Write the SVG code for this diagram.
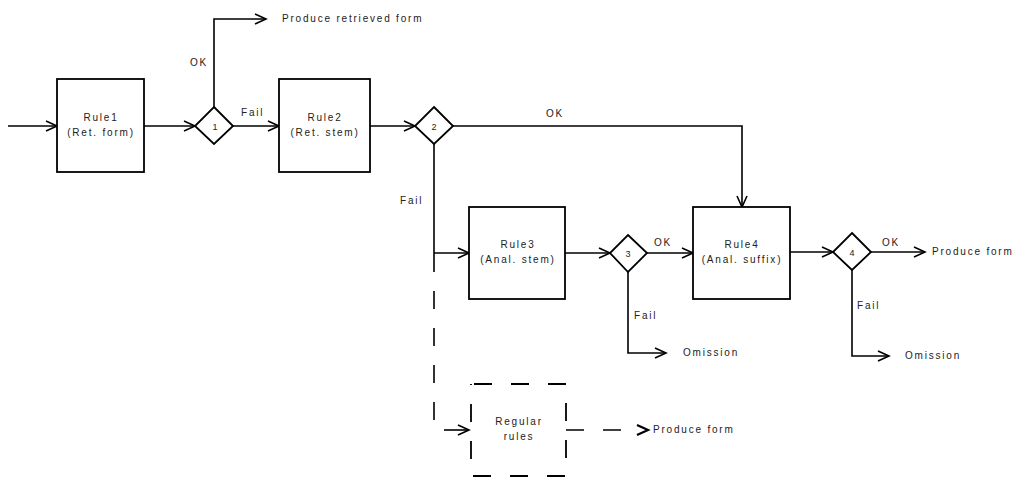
<svg xmlns="http://www.w3.org/2000/svg" width="1013" height="480" viewBox="0 0 1013 480">
<style>
text{font-family:"Liberation Sans",Arial,sans-serif;font-size:10px;letter-spacing:1.8px;fill:#222}
.c{text-anchor:middle}
.box{fill:#fff;stroke:#000;stroke-width:1.8}
.ln{fill:none;stroke:#000;stroke-width:1.6}
.ar{marker-end:url(#a)}
.d{stroke-dasharray:18 19}
</style>
<defs>
<marker id="a" markerWidth="14" markerHeight="14" refX="12" refY="6" orient="auto" markerUnits="userSpaceOnUse">
<path d="M1,1 L12,6 L1,11" fill="none" stroke="#000" stroke-width="1.6"/>
</marker>
</defs>
<g id="connectors">
<line class="ln ar" x1="8" y1="126" x2="57" y2="126"/>
<line class="ln ar" x1="144" y1="126" x2="195" y2="126"/>
<polyline class="ln ar" points="214,107 214,19 266,19"/>
<line class="ln ar" x1="233" y1="126" x2="279" y2="126"/>
<line class="ln ar" x1="370" y1="126" x2="415" y2="126"/>
<polyline class="ln ar" points="453,126 742,126 742,207"/>
<line class="ln" x1="434" y1="144" x2="434" y2="272"/>
<line class="ln ar" x1="434" y1="253" x2="469" y2="253"/>
<line class="ln ar" x1="565" y1="253" x2="610" y2="253"/>
<line class="ln ar" x1="647" y1="253" x2="693" y2="253"/>
<line class="ln ar" x1="790" y1="252" x2="833" y2="252"/>
<line class="ln ar" x1="871" y1="252" x2="925" y2="252"/>
<polyline class="ln ar" points="628,272 628,353 666,353"/>
<polyline class="ln ar" points="852,270 852,356 889,356"/>
<line class="ln d" x1="434" y1="291" x2="434" y2="420"/>
<line class="ln ar" x1="444" y1="430" x2="469" y2="430"/>
<line class="ln d" x1="566" y1="430" x2="622" y2="430"/>
<polyline points="637,425 648,430 637,435" fill="none" stroke="#000" stroke-width="2.2"/>
<text x="190" y="66">OK</text>
<text x="241" y="116">Fail</text>
<text x="546" y="117">OK</text>
<text x="400" y="204">Fail</text>
<text x="654" y="246">OK</text>
<text x="882" y="246">OK</text>
<text x="634" y="319">Fail</text>
<text x="857" y="309">Fail</text>
<text x="282" y="22">Produce retrieved form</text>
<text x="932" y="255">Produce form</text>
<text x="683" y="356">Omission</text>
<text x="905" y="359">Omission</text>
<text x="653" y="433">Produce form</text>
</g>
<g id="rule1">
<rect class="box" x="57" y="79" width="87" height="93"/>
<text class="c" x="101" y="121">Rule1</text>
<text class="c" x="101" y="136">(Ret. form)</text>
</g>
<g id="d1">
<polygon class="box" points="214,107 233,126 214,144 195,126"/>
<text class="c" x="215" y="130" style="font-size:9px;letter-spacing:0">1</text>
</g>
<g id="rule2">
<rect class="box" x="279" y="79" width="91" height="93"/>
<text class="c" x="325" y="121">Rule2</text>
<text class="c" x="325" y="136">(Ret. stem)</text>
</g>
<g id="d2">
<polygon class="box" points="434,107 453,126 434,144 415,126"/>
<text class="c" x="434" y="130" style="font-size:9px;letter-spacing:0">2</text>
</g>
<g id="rule3">
<rect class="box" x="469" y="207" width="96" height="92"/>
<text class="c" x="518" y="248">Rule3</text>
<text class="c" x="518" y="263">(Anal. stem)</text>
</g>
<g id="d3">
<polygon class="box" points="628,235 647,253 628,272 610,253"/>
<text class="c" x="628" y="257" style="font-size:9px;letter-spacing:0">3</text>
</g>
<g id="rule4">
<rect class="box" x="693" y="207" width="97" height="92"/>
<text class="c" x="742" y="248">Rule4</text>
<text class="c" x="742" y="263">(Anal. suffix)</text>
</g>
<g id="d4">
<polygon class="box" points="852,233 871,252 852,270 833,252"/>
<text class="c" x="852" y="256" style="font-size:9px;letter-spacing:0">4</text>
</g>
<g id="regular">
<rect class="box d" x="471" y="384" width="95" height="92" style="stroke-dashoffset:-3"/>
<text class="c" x="519" y="425">Regular</text>
<text class="c" x="519" y="440">rules</text>
</g>
</svg>
